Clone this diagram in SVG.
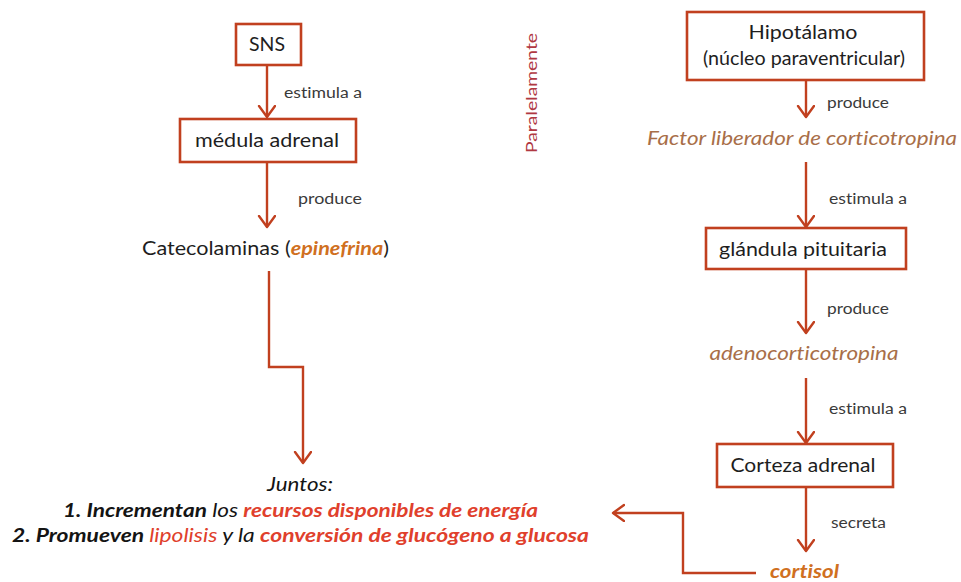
<svg xmlns="http://www.w3.org/2000/svg" width="961" height="582" viewBox="0 0 961 582">
<style>
.box{fill:#fff;stroke:#c1401f;stroke-width:2.6}
.cn{fill:none;stroke:#c1401f;stroke-width:2.4}
text{font-family:Lato,"Open Sans","Liberation Sans",sans-serif;font-variant-ligatures:none}
.bl{font-size:19.5px;fill:#1e1e1e;text-anchor:middle}
.sl{font-size:15.5px;fill:#3a3a3a}
.hor{font-size:19.5px;font-style:italic;fill:#a86e48;text-anchor:middle}
.or{font-weight:bold;font-style:italic;fill:#d0701f}
.rd{fill:#e0402c}
.bi{font-weight:bold;font-style:italic}
.it{font-style:italic}
.bt{font-size:19.5px;fill:#141414;text-anchor:middle}
</style>
<defs>
<marker id="ah" markerUnits="userSpaceOnUse" markerWidth="16" markerHeight="20" refX="12" refY="9" orient="auto">
<path d="M1,1 L12,9 L1,17" fill="none" stroke="#c1401f" stroke-width="2.4" stroke-linejoin="round" stroke-linecap="round"/>
</marker>
</defs>
<g id="connectors">
<line class="cn" x1="267" y1="65" x2="267" y2="117" marker-end="url(#ah)"/>
<line class="cn" x1="267" y1="162" x2="267" y2="227" marker-end="url(#ah)"/>
<polyline class="cn" points="269,271 269,367 303,367 303,463" marker-end="url(#ah)"/>
<line class="cn" x1="806" y1="80" x2="806" y2="117" marker-end="url(#ah)"/>
<line class="cn" x1="806" y1="162" x2="806" y2="227" marker-end="url(#ah)"/>
<line class="cn" x1="806" y1="269" x2="806" y2="333" marker-end="url(#ah)"/>
<line class="cn" x1="806" y1="378" x2="806" y2="443" marker-end="url(#ah)"/>
<line class="cn" x1="806" y1="487" x2="806" y2="551" marker-end="url(#ah)"/>
<polyline class="cn" points="756,573 683,573 683,513 613,513" marker-end="url(#ah)"/>
<text class="sl" x="284" y="98" textLength="78" lengthAdjust="spacingAndGlyphs">estimula a</text>
<text class="sl" x="298" y="204" textLength="64" lengthAdjust="spacingAndGlyphs">produce</text>
<text class="sl" x="827" y="108" textLength="62" lengthAdjust="spacingAndGlyphs">produce</text>
<text class="sl" x="829" y="204" textLength="78" lengthAdjust="spacingAndGlyphs">estimula a</text>
<text class="sl" x="827" y="314" textLength="62" lengthAdjust="spacingAndGlyphs">produce</text>
<text class="sl" x="829" y="414" textLength="78" lengthAdjust="spacingAndGlyphs">estimula a</text>
<text class="sl" x="831" y="528" textLength="55" lengthAdjust="spacingAndGlyphs">secreta</text>
</g>
<g id="sns">
<rect class="box" x="236" y="24" width="65" height="41"/>
<text class="bl" x="267" y="51" textLength="36" lengthAdjust="spacingAndGlyphs">SNS</text>
</g>
<g id="medula">
<rect class="box" x="180" y="119" width="176" height="43"/>
<text class="bl" x="267" y="147" textLength="144" lengthAdjust="spacingAndGlyphs">médula adrenal</text>
</g>
<g id="catecolaminas">
<text x="142" y="255" font-size="19.5" fill="#1e1e1e" textLength="247" lengthAdjust="spacingAndGlyphs">Catecolaminas (<tspan class="or">epinefrina</tspan>)</text>
</g>
<g id="paralelamente">
<text x="0" y="0" font-size="15" fill="#b03842" text-anchor="middle" transform="translate(537,93) rotate(-90)" textLength="120" lengthAdjust="spacingAndGlyphs">Paralelamente</text>
</g>
<g id="hipotalamo">
<rect class="box" x="687" y="12" width="237" height="68"/>
<text class="bl" x="803" y="39" textLength="109" lengthAdjust="spacingAndGlyphs">Hipotálamo</text>
<text class="bl" x="804" y="65" textLength="202" lengthAdjust="spacingAndGlyphs">(núcleo paraventricular)</text>
</g>
<g id="factor">
<text class="hor" x="802" y="145" textLength="310" lengthAdjust="spacingAndGlyphs">Factor liberador de corticotropina</text>
</g>
<g id="glandula">
<rect class="box" x="706" y="228" width="200" height="41"/>
<text class="bl" x="803" y="256" textLength="168" lengthAdjust="spacingAndGlyphs">glándula pituitaria</text>
</g>
<g id="adeno">
<text class="hor" x="804" y="360" textLength="189" lengthAdjust="spacingAndGlyphs">adenocorticotropina</text>
</g>
<g id="corteza">
<rect class="box" x="717" y="444" width="176" height="43"/>
<text class="bl" x="803" y="472" textLength="145" lengthAdjust="spacingAndGlyphs">Corteza adrenal</text>
</g>
<g id="cortisol">
<text x="770" y="578" font-size="19.5" class="or" textLength="69" lengthAdjust="spacingAndGlyphs">cortisol</text>
</g>
<g id="juntos">
<text class="bt it" x="300" y="491" fill="#333" textLength="66" lengthAdjust="spacingAndGlyphs">Juntos:</text>
<text x="63" y="517" font-size="19.5" fill="#141414" textLength="475" lengthAdjust="spacingAndGlyphs"><tspan class="bi">1. Incrementan</tspan><tspan class="it"> los </tspan><tspan class="bi rd">recursos disponibles de energía</tspan></text>
<text x="12" y="542" font-size="19.5" fill="#141414" textLength="577" lengthAdjust="spacingAndGlyphs"><tspan class="bi">2. Promueven </tspan><tspan class="it rd">lipolisis</tspan><tspan class="it"> y la </tspan><tspan class="bi rd">conversión de glucógeno a glucosa</tspan></text>
</g>
</svg>
